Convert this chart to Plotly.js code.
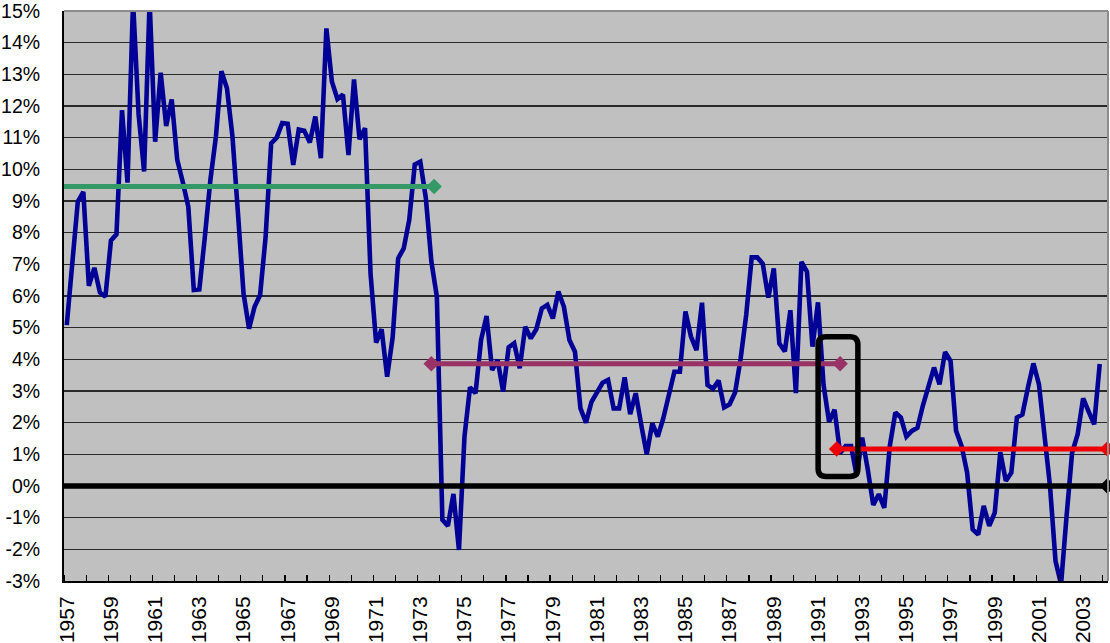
<!DOCTYPE html>
<html>
<head>
<meta charset="utf-8">
<script src="https://cdn.plot.ly/plotly-3.0.1.min.js"></script>
<style>
  html, body { margin: 0; padding: 0; background: #ffffff; }
  #chart { width: 1110px; height: 643px; }
</style>
</head>
<body>
<div id="chart"></div>
<script>
// Quarterly series, first quarter = 1957 Q1 (values in %)
const firstYear = 1957;
const rate = [
  5.08, 7.25, 8.98, 9.29,      // 1957
  6.32, 6.89, 6.11, 5.98,      // 1958
  7.75, 7.95, 11.87, 9.58,     // 1959
  15.3, 11.75, 9.93, 15.3,     // 1960
  10.87, 13.05, 11.37, 12.21,  // 1961
  10.3, 9.6, 8.82, 6.19,       // 1962
  6.21, 7.87, 9.66, 11.03,     // 1963
  13.1, 12.56, 11.03, 8.6,     // 1964
  6.08, 4.97, 5.66, 6.03,      // 1965
  7.87, 10.82, 11.0, 11.46,    // 1966
  11.44, 10.14, 11.26, 11.22,  // 1967
  10.85, 11.67, 10.35, 14.45,  // 1968
  12.77, 12.22, 12.36, 10.45,  // 1969
  12.84, 10.95, 11.3, 6.7,     // 1970
  4.53, 4.95, 3.45, 4.7,       // 1971
  7.19, 7.5, 8.4, 10.15,       // 1972
  10.24, 9.1, 7.1, 5.98,       // 1973
  -1.07, -1.26, -0.25, -2.02,  // 1974
  1.56, 3.12, 2.93, 4.61,      // 1975
  5.37, 3.66, 3.98, 2.98,      // 1976
  4.38, 4.51, 3.72, 5.03,      // 1977
  4.66, 4.95, 5.61, 5.72,      // 1978
  5.29, 6.14, 5.66, 4.61,      // 1979
  4.24, 2.45, 2.0, 2.66,       // 1980
  2.98, 3.26, 3.35, 2.45,      // 1981
  2.45, 3.43, 2.27, 2.93,      // 1982
  1.93, 1.0, 1.98, 1.56,       // 1983
  2.14, 2.95, 3.61, 3.61,      // 1984
  5.51, 4.72, 4.29, 5.79,      // 1985
  3.19, 3.07, 3.33, 2.48,      // 1986
  2.58, 2.96, 4.03, 5.4,       // 1987
  7.22, 7.22, 7.02, 5.95,      // 1988
  6.87, 4.5, 4.25, 5.55,       // 1989
  2.93, 7.08, 6.77, 4.4,       // 1990
  5.8, 3.2, 2.03, 2.41,        // 1991
  1.04, 1.26, 1.26, 0.32,      // 1992
  1.53, 0.53, -0.6, -0.26,     // 1993
  -0.69, 1.26, 2.32, 2.16,     // 1994
  1.56, 1.74, 1.84, 2.55,      // 1995
  3.16, 3.74, 3.21, 4.23,      // 1996
  3.95, 1.74, 1.26, 0.42,      // 1997
  -1.37, -1.53, -0.63, -1.26,  // 1998
  -0.84, 1.07, 0.16, 0.42,     // 1999
  2.16, 2.26, 3.1, 3.87,       // 2000
  3.21, 1.68, 0.0, -2.37,      // 2001
  -3.1, -0.95, 1.05, 1.63,     // 2002
  2.77, 2.35, 1.95, 3.85       // 2003
];

// Period averages (horizontal reference lines): level, start, end (years)
const avgNames  = ['avg 1957-1973', 'avg 1974-1991', 'avg 1992-2003', 'zero'];
const avgLevel  = [9.46, 3.86, 1.17, 0];
const avgStart  = [1956.875, 1973.625, 1991.97, 1956.875];
const avgEnd    = [1973.75, 1992.125, 2004.22, 2004.22];
const avgColor  = ['#339966', '#993366', '#ee0000', '#000000'];
const avgWidth  = [5, 5, 5, 5.5];

// Tick labels (every second year)
const labelYears = [1957, 1959, 1961, 1963, 1965, 1967, 1969, 1971, 1973, 1975,
  1977, 1979, 1981, 1983, 1985, 1987, 1989, 1991, 1993, 1995, 1997, 1999, 2001, 2003];
const yTicks = [-3, -2, -1, 0, 1, 2, 3, 4, 5, 6, 7, 8, 9, 10, 11, 12, 13, 14, 15];

// Highlight box (years / %)
const boxX = [1991.13, 1992.93];
const boxY = [0.30, 4.71];

// quarter centers on a year axis
const xq = rate.map((_, i) => firstYear + 0.125 + 0.25 * i);

const traces = [{
  type: 'scatter', mode: 'lines', x: xq, y: rate,
  line: { color: '#000096', width: 4.6, shape: 'linear' },
  hoverinfo: 'skip', showlegend: false
}];
for (let k = 0; k < avgLevel.length; k++) {
  traces.push({
    type: 'scatter', mode: 'lines+markers', name: avgNames[k],
    x: [avgStart[k], avgEnd[k]], y: [avgLevel[k], avgLevel[k]],
    line: { color: avgColor[k], width: avgWidth[k] },
    marker: { symbol: 'diamond', size: 12, color: avgColor[k] },
    cliponaxis: false, hoverinfo: 'skip', showlegend: false
  });
}

// rounded rectangle path
function roundRect(x0, x1, y0, y1, rx, ry) {
  return `M ${x0+rx},${y1} L ${x1-rx},${y1} Q ${x1},${y1} ${x1},${y1-ry} ` +
         `L ${x1},${y0+ry} Q ${x1},${y0} ${x1-rx},${y0} L ${x0+rx},${y0} ` +
         `Q ${x0},${y0} ${x0},${y0+ry} L ${x0},${y1-ry} Q ${x0},${y1} ${x0+rx},${y1} Z`;
}

const font = 'Liberation Sans, Arial, sans-serif';
const layout = {
  width: 1110, height: 643,
  margin: { l: 64, r: 2, t: 11, b: 62 },
  paper_bgcolor: '#ffffff',
  plot_bgcolor: '#c0c0c0',
  showlegend: false,
  font: { family: font, size: 20, color: '#000' },
  xaxis: {
    range: [1957, 2004.25],
    tickmode: 'array',
    tickvals: labelYears.map(y => y + 0.125),
    ticktext: labelYears.map(String),
    tickangle: -90,
    ticks: '',
    ticklabelstandoff: 5,
    ticklabeloverflow: 'allow',
    showgrid: false, zeroline: false,
    showline: true, linecolor: '#000', linewidth: 2,
    tickfont: { family: font, size: 21, color: '#000' },
    minor: {
      tickmode: 'array',
      tickvals: Array.from({ length: 48 }, (_, i) => 1957 + i),
      ticks: 'inside', ticklen: 6, tickwidth: 1.2, tickcolor: '#000', showgrid: false
    },
    fixedrange: true
  },
  yaxis: {
    range: [-3, 15],
    tickmode: 'array',
    tickvals: yTicks,
    ticktext: yTicks.map(v => v + '%'),
    ticks: '',
    ticklabelstandoff: 18,
    ticklabeloverflow: 'allow',
    showgrid: true, gridcolor: '#2a2a2a', gridwidth: 1.2,
    zeroline: false,
    showline: true, linecolor: '#000', linewidth: 2,
    tickfont: { family: font, size: 19.5, color: '#000' },
    fixedrange: true
  },
  shapes: [
    { type: 'line', xref: 'paper', yref: 'paper', x0: 0, x1: 1, y0: 1, y1: 1,
      line: { color: '#8c8c8c', width: 2 } },
    { type: 'line', xref: 'paper', yref: 'paper', x0: 1, x1: 1, y0: 0, y1: 1,
      line: { color: '#8c8c8c', width: 2 } },
    { type: 'path', xref: 'x', yref: 'y',
      path: roundRect(boxX[0], boxX[1], boxY[0], boxY[1], 0.36, 0.25),
      line: { color: '#000', width: 5.5 } }
  ]
};

Plotly.newPlot('chart', traces, layout, { staticPlot: true, displayModeBar: false });
</script>
</body>
</html>
